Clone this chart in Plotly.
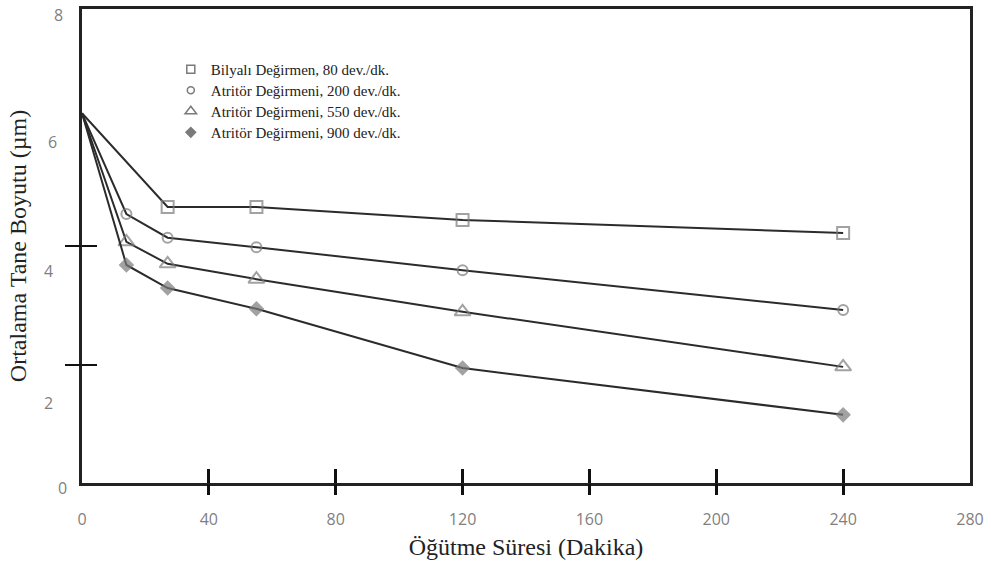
import plotly.graph_objects as go

# ---- data ----
time_all = [0, 14, 27, 55, 120, 240]
time_ball = [0, 27, 55, 120, 240]

ball_80 = [6.24, 4.66, 4.66, 4.44, 4.22]
attr_200 = [6.24, 4.54, 4.14, 3.98, 3.59, 2.92]
attr_550 = [6.24, 4.07, 3.70, 3.44, 2.89, 1.96]
attr_900 = [6.24, 3.68, 3.29, 2.94, 1.94, 1.15]

series_names = [
    "Bilyalı Değirmen, 80 dev./dk.",
    "Atritör Değirmeni, 200 dev./dk.",
    "Atritör Değirmeni, 550 dev./dk.",
    "Atritör Değirmeni, 900 dev./dk.",
]

x_tick_vals = [0, 40, 80, 120, 160, 200, 240, 280]
x_cross_ticks = [40, 80, 120, 160, 200, 240]
y_tick_labels = ["0", "2", "4", "6", "8"]
y_tick_vals = [0, 2, 4, 6, 8]
y_cross_ticks = [2, 4]

# ---- styling ----
LINE = "#2b2b2b"
MARK = "#7a7a7a"
GRAY_TXT = "#7f7f7f"
SERIF = "Liberation Serif, Times New Roman, serif"
SANS = "Open Sans, DejaVu Sans, sans-serif"

symbols = ["square-open", "circle-open", "triangle-up-open", "diamond"]
plot_sizes = [12, 10, 14, 12]
legend_sizes = [8, 7, 10, 9]
legend_ids = ["legend", "legend2", "legend3", "legend4"]
LEG_X = 0.1
LEG_Y0 = 0.907
LEG_STEP = 0.0443

fig = go.Figure()

xs = [time_ball, time_all, time_all, time_all]
ys = [ball_80, attr_200, attr_550, attr_900]

for i in range(4):
    sizes = [0] + [plot_sizes[i]] * (len(xs[i]) - 1)
    fig.add_trace(go.Scatter(
        x=xs[i], y=ys[i], mode="lines+markers",
        line=dict(color=LINE, width=2),
        marker=dict(symbol=symbols[i], size=sizes, color=MARK,
                    line=dict(color=MARK, width=2 if i < 3 else 0)),
        showlegend=False, hoverinfo="x+y",
    ))

# legend-only entries (marker only, as in the reference), one small legend per row
for i in range(4):
    fig.add_trace(go.Scatter(
        x=[None], y=[None], mode="markers", name=series_names[i],
        marker=dict(symbol=symbols[i], size=legend_sizes[i], color=MARK,
                    line=dict(color=MARK, width=1.5 if i < 3 else 0)),
        showlegend=True, legend=legend_ids[i],
    ))

# empty traces so overlay axes (cross ticks) are drawn
fig.add_trace(go.Scatter(x=[None], y=[None], xaxis="x2", yaxis="y", showlegend=False, hoverinfo="skip"))
fig.add_trace(go.Scatter(x=[None], y=[None], xaxis="x3", yaxis="y", showlegend=False, hoverinfo="skip"))
fig.add_trace(go.Scatter(x=[None], y=[None], xaxis="x", yaxis="y2", showlegend=False, hoverinfo="skip"))
fig.add_trace(go.Scatter(x=[None], y=[None], xaxis="x", yaxis="y3", showlegend=False, hoverinfo="skip"))

xr = [0, 280]
yr = [0, 8]

# y tick labels (placed as in the scanned reference, which drifts below the ticks)
label_yshift = [-5, -38, -25, -14, -6]
label_xshift = [-20, -34, -34, -30, -24]
for lab, v, dy, dx in zip(y_tick_labels, y_tick_vals, label_yshift, label_xshift):
    fig.add_annotation(x=0, xref="paper", y=v, yref="y", text=lab, showarrow=False,
                       xanchor="center", yanchor="middle", xshift=dx, yshift=dy,
                       font=dict(family=SANS, size=16, color=GRAY_TXT))

legend_layout = {}
for i, lid in enumerate(legend_ids):
    legend_layout[lid] = dict(x=LEG_X, y=LEG_Y0 - i * LEG_STEP, xanchor="left", yanchor="top",
                              bgcolor="rgba(0,0,0,0)", borderwidth=0,
                              font=dict(family=SERIF, size=15, color="#222"),
                              itemwidth=30)

fig.update_layout(
    width=989, height=563,
    margin=dict(l=82, r=19, t=9, b=80, autoexpand=False),
    paper_bgcolor="white", plot_bgcolor="white",
    showlegend=True,
    **legend_layout,
    xaxis=dict(range=xr, tickvals=x_tick_vals, ticktext=[str(v) for v in x_tick_vals],
               ticks="", showgrid=False, zeroline=False, automargin=False,
               showline=True, linecolor="#222", linewidth=2.5, mirror=True,
               tickfont=dict(family=SANS, size=16, color=GRAY_TXT),
               ticklabelstandoff=20,
               title=dict(text="Öğütme Süresi (Dakika)", standoff=10,
                          font=dict(family=SERIF, size=24, color="#222"))),
    xaxis2=dict(range=xr, overlaying="x", anchor="y", side="bottom", automargin=False,
                tickvals=x_cross_ticks, ticks="outside", ticklen=11, tickwidth=3,
                tickcolor="#111", showticklabels=False, showgrid=False,
                zeroline=False, showline=False),
    xaxis3=dict(range=xr, overlaying="x", anchor="y", side="bottom", automargin=False,
                tickvals=x_cross_ticks, ticks="inside", ticklen=14, tickwidth=3,
                tickcolor="#111", showticklabels=False, showgrid=False,
                zeroline=False, showline=False),
    yaxis=dict(range=yr, tickvals=y_tick_vals, showticklabels=False, automargin=False,
               ticks="", showgrid=False, zeroline=False,
               showline=True, linecolor="#222", linewidth=2.5, mirror=True,
               title=dict(text="Ortalama Tane Boyutu (µm)", standoff=46,
                          font=dict(family=SERIF, size=24, color="#222"))),
    yaxis2=dict(range=yr, overlaying="y", anchor="x", side="left", automargin=False,
                tickvals=y_cross_ticks, ticks="outside", ticklen=16, tickwidth=2,
                tickcolor="#111", showticklabels=False, showgrid=False,
                zeroline=False, showline=False),
    yaxis3=dict(range=yr, overlaying="y", anchor="x", side="left", automargin=False,
                tickvals=y_cross_ticks, ticks="inside", ticklen=15, tickwidth=2,
                tickcolor="#111", showticklabels=False, showgrid=False,
                zeroline=False, showline=False),
)

fig.write_html("out.html", config={"displayModeBar": False},
               post_script="document.body.style.margin='0';")
